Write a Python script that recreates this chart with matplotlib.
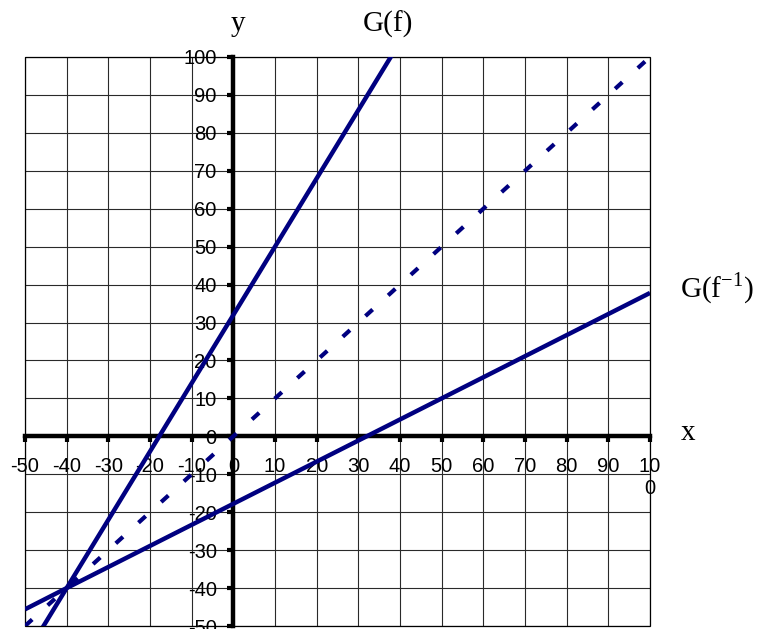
import matplotlib
matplotlib.use("Agg")
import matplotlib.pyplot as plt
from matplotlib.patches import Rectangle

# Celsius / Fahrenheit style conversion graphs
gf_x = [-50, -40, 0, 40]
gf_y = [-58, -40, 32, 104]
ginv_x = [-50, -40, 32, 100]
ginv_y = [-45.6, -40, 0, 37.8]
ident_x = [-50, 100]
ident_y = [-50, 100]

x_ticks = list(range(-50, 101, 10))
y_ticks = list(range(-50, 101, 10))
x_tick_labels = [str(v) for v in x_ticks[:-1]] + ["10\n0"]
y_tick_labels = [str(v) for v in y_ticks]

line_color = "#000080"

plt.rcParams["lines.scale_dashes"] = False
plt.rcParams["mathtext.fontset"] = "custom"
plt.rcParams["mathtext.rm"] = "Liberation Serif"

W, H = 760, 629
fig = plt.figure(figsize=(W / 100, H / 100), dpi=100)
ax = fig.add_axes([25 / W, 3 / H, 625 / W, 569 / H])

ax.set_xlim(-50, 100)
ax.set_ylim(-50, 100)

# grid every 10 units plus outer frame
for v in x_ticks:
    ax.axvline(v, color="#2a2a2a", lw=0.8, zorder=1)
for v in y_ticks:
    ax.axhline(v, color="#2a2a2a", lw=0.8, zorder=1)
ax.add_patch(Rectangle((0, 0), 1, 1, transform=ax.transAxes, fill=False,
                       edgecolor="black", lw=0.9, clip_on=False, zorder=2))

# thick axes through the origin
ax.spines["right"].set_visible(False)
ax.spines["top"].set_visible(False)
ax.spines["left"].set_position(("data", 0))
ax.spines["bottom"].set_position(("data", 0))
for s in ("left", "bottom"):
    ax.spines[s].set_linewidth(3.2)
    ax.spines[s].set_color("black")
    ax.spines[s].set_zorder(3)

ax.set_xticks(x_ticks)
ax.set_xticklabels(x_tick_labels)
ax.set_yticks(y_ticks)
ax.set_yticklabels(y_tick_labels)
ax.tick_params(axis="both", direction="out", length=4, width=3, color="black",
               labelsize=14.5)
ax.tick_params(axis="x", pad=11)
ax.tick_params(axis="y", pad=8)
for lab in ax.get_xticklabels() + ax.get_yticklabels():
    lab.set_fontfamily("Liberation Sans")
    lab.set_multialignment("center")

ax.plot(gf_x, gf_y, color=line_color, lw=3.2, solid_capstyle="butt", zorder=4)
ax.plot(ginv_x, ginv_y, color=line_color, lw=3.2, solid_capstyle="butt", zorder=4)
ax.plot(ident_x, ident_y, color=line_color, lw=3.0, zorder=4,
        linestyle=(0, (7.0, 15.1)))

serif = dict(fontfamily="Liberation Serif", fontsize=21, color="black")
fig.text(238 / W, 1 - 31 / H, "y", ha="center", va="baseline", **serif)
fig.text(688 / W, 1 - 440 / H, "x", ha="center", va="baseline", **serif)
fig.text(388 / W, 1 - 32 / H, "G(f)", ha="center", va="baseline", **serif)
fig.text(680 / W, 1 - 297 / H, r"G(f$^{\mathregular{-1}}$)", ha="left",
         va="baseline", **serif)

fig.savefig("out.png", dpi=100)
